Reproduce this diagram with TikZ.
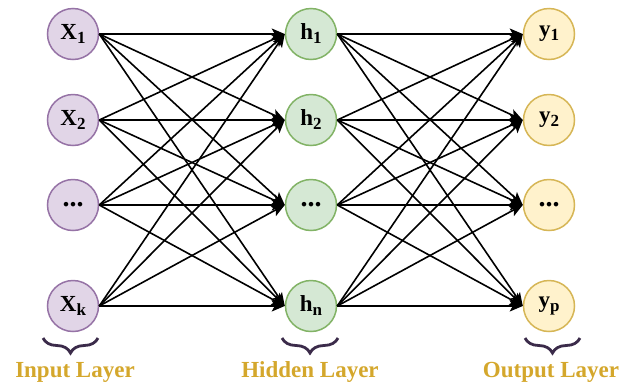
\documentclass[tikz,border=0pt]{standalone}
\usepackage{fontspec}
\setmainfont{Liberation Serif}
\usetikzlibrary{arrows.meta,decorations.pathreplacing}
\definecolor{inF}{HTML}{E1D5E7}
\definecolor{inD}{HTML}{9673A6}
\definecolor{hiF}{HTML}{D5E8D4}
\definecolor{hiD}{HTML}{82B366}
\definecolor{ouF}{HTML}{FFF2CC}
\definecolor{ouD}{HTML}{D6B656}
\definecolor{brc}{HTML}{3B2B4A}
\definecolor{lab}{HTML}{D4A72C}
\newcommand\nlab[2]{\textbf{#1\raisebox{-4pt}{\fontsize{17}{17}\selectfont #2}}}
\newcommand\ndots{\textbf{\fontsize{28}{28}\selectfont ...}}
\begin{document}
\begin{tikzpicture}[x=1pt,y=-1pt,
  neuron/.style={circle,minimum size=51pt,inner sep=0pt,line width=1.5pt,
    font=\fontsize{23}{27}\selectfont},
  inN/.style={neuron,fill=inF,draw=inD},
  hiN/.style={neuron,fill=hiF,draw=hiD},
  ouN/.style={neuron,fill=ouF,draw=ouD},
  conn/.style={line width=1.6pt,black,-{Stealth[length=13pt,width=11pt,inset=3pt]}},
  brace/.style={decorate,decoration={brace,mirror,amplitude=15pt},line width=2.8pt,draw=brc},
  layerlab/.style={text=lab,font=\bfseries\fontsize{23}{27}\selectfont}
]
\useasboundingbox (0,0) rectangle (621,389);
% input layer
\node[inN] (x1) at (73,34) {\nlab{X}{1}};
\node[inN] (x2) at (73,120) {\nlab{X}{2}};
\node[inN] (x3) at (73,205) {\ndots};
\node[inN] (x4) at (73,306) {\nlab{X}{k}};
% hidden layer
\node[hiN] (h1) at (311,34) {\nlab{h}{1}};
\node[hiN] (h2) at (311,120) {\nlab{h}{2}};
\node[hiN] (h3) at (311,205) {\ndots};
\node[hiN] (h4) at (311,306) {\nlab{h}{n}};
% output layer
\node[ouN] (y1) at (549,34) {\nlab{y}{1}};
\node[ouN] (y2) at (549,120) {\nlab{y}{2}};
\node[ouN] (y3) at (549,205) {\ndots};
\node[ouN] (y4) at (549,306) {\nlab{y}{p}};
% connections
\foreach \i in {1,...,4}{
  \foreach \j in {1,...,4}{
    \draw[conn] (x\i.east) -- (h\j.west);
    \draw[conn] (h\i.east) -- (y\j.west);
  }
}
% braces
\coordinate (bi1) at (43,338); \coordinate (bi2) at (98,338);
\coordinate (bh1) at (282,338); \coordinate (bh2) at (338,338);
\coordinate (bo1) at (525,338); \coordinate (bo2) at (580,338);
\draw[brace] (bi1) -- (bi2);
\draw[brace] (bh1) -- (bh2);
\draw[brace] (bo1) -- (bo2);
% labels
\node[layerlab] (li) at (75,372) {Input Layer};
\node[layerlab] (lh) at (310,372) {Hidden Layer};
\node[layerlab] (lo) at (551,372) {Output Layer};
\end{tikzpicture}
\end{document}
